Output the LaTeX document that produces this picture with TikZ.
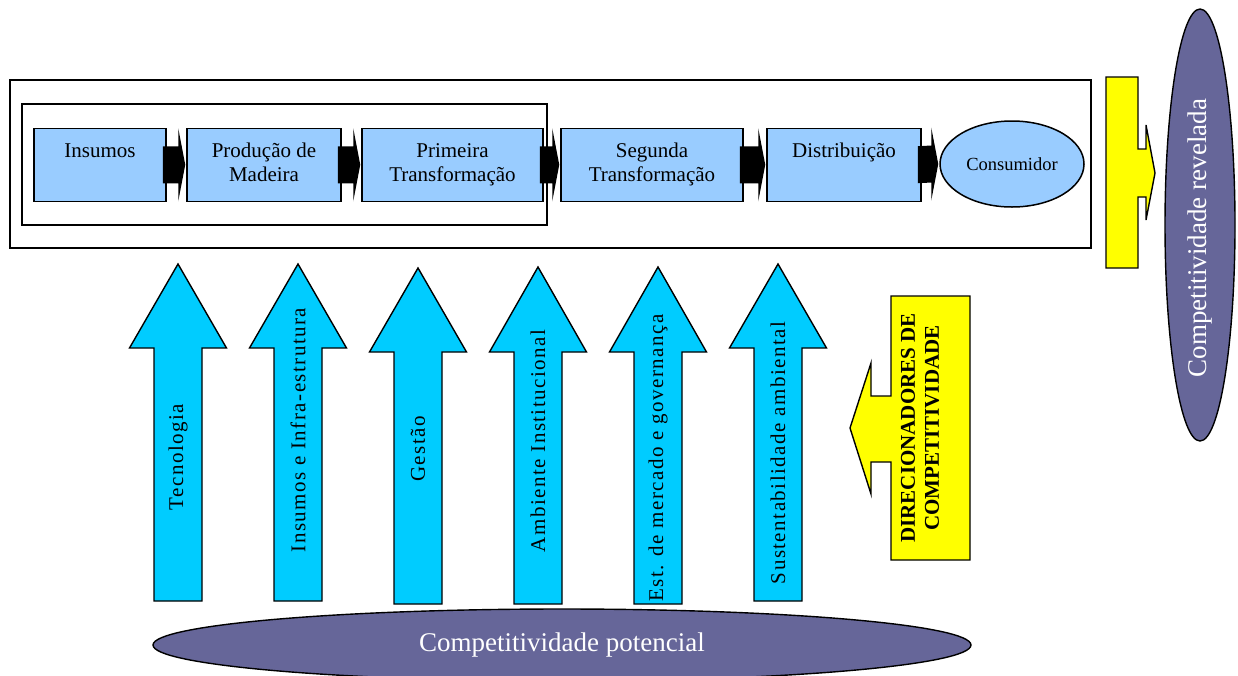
\documentclass[tikz,border=0pt]{standalone}
\usepackage{fontspec}
\setmainfont{Liberation Serif}
\usetikzlibrary{calc,shapes.geometric}

\definecolor{procblue}{HTML}{99CCFF}
\definecolor{drivercyan}{HTML}{00CCFF}
\definecolor{potpurple}{HTML}{666699}
\definecolor{dirYellow}{HTML}{FFFF00}

% black block arrow linking two stages of the chain
\newcommand\chainlink[2]{%
  \fill[black] ($(#1.east)+(-4,-18.5)$) -- ($(#2.west)+(-8,-18.5)$)
    -- ($(#2.west)+(-8,-36.5)$) -- ($(#2.west)+(-1,0)$)
    -- ($(#2.west)+(-8,36.5)$) -- ($(#2.west)+(-8,18.5)$)
    -- ($(#1.east)+(-4,18.5)$) -- cycle;}

% upward cyan arrow with a rotated label:
% #1 centre x, #2 tip y, #3 head base y, #4 bottom y, #5 label name, #6 label y, #7 text
\newcommand\driverarrow[7]{%
  \draw[driver] (#1,#2) -- (#1+48.5,#3) -- (#1+24,#3) -- (#1+24,#4)
    -- (#1-24,#4) -- (#1-24,#3) -- (#1-48.5,#3) -- cycle;
  \node[driverlabel] (#5) at (#1,#6) {#7};}

\begin{document}
\begin{tikzpicture}[x=1pt,y=-1pt,line join=miter,
  frame/.style={draw=black,line width=1.5pt},
  procbox/.style={draw=black,line width=1.5pt,fill=procblue,minimum height=73pt,
    inner sep=0pt,align=center,font=\fontsize{21}{24}\selectfont},
  driver/.style={draw=black,line width=1.4pt,fill=drivercyan},
  driverlabel/.style={rotate=90,inner sep=0pt,
    font=\fontsize{21}{24}\selectfont\addfontfeature{LetterSpace=7}},
  yellowarrow/.style={draw=black,line width=1.4pt,fill=dirYellow},
  compet/.style={ellipse,draw=black,line width=1.4pt,fill=potpurple,inner sep=0pt},
  competlabel/.style={text=white,inner sep=0pt,font=\fontsize{27}{30}\selectfont}]

\useasboundingbox (0,0) rectangle (1238,675);

% frames around the chain
\draw[frame] (10,80) rectangle (1091,248);
\draw[frame] (22,104) rectangle (547,225);

% stages of the chain
\node[procbox,minimum width=132pt] (b1) at (100,164.75) {Insumos\strut\\\strut};
\node[procbox,minimum width=154pt] (b2) at (264,164.75) {Produção de\strut\\Madeira\strut};
\node[procbox,minimum width=181pt] (b3) at (452.5,164.75) {Primeira\strut\\Transformação\strut};
\node[procbox,minimum width=182pt] (b4) at (652,164.75) {Segunda\strut\\Transformação\strut};
\node[procbox,minimum width=154pt] (b5) at (844,164.75) {Distribuição\strut\\\strut};
\node[ellipse,draw=black,line width=1.5pt,fill=procblue,minimum width=144pt,
  minimum height=86pt,inner sep=0pt,font=\fontsize{18.5}{22}\selectfont]
  (cons) at (1012,164) {Consumidor};

\chainlink{b1}{b2}
\chainlink{b2}{b3}
\chainlink{b3}{b4}
\chainlink{b4}{b5}
\chainlink{b5}{cons}

% determinants of competitiveness
\driverarrow{178}{264}{348}{601}{tec}{457}{Tecnologia}
\driverarrow{298}{264}{348}{601}{infra}{430}{Insumos e Infra-estrutura}
\driverarrow{418}{268}{352}{604}{gest}{449}{Gestão}
\driverarrow{538}{267}{352}{604}{amb}{441}{Ambiente Institucional}
\driverarrow{658}{267}{352}{604}{merc}{458}{Est. de mercado e governança}
\driverarrow{778}{264}{348}{601}{sust}{453}{Sustentabilidade ambiental}

% yellow arrow pointing at the determinants
\draw[yellowarrow] (891,296) -- (970,296) -- (970,560) -- (891,560) -- (891,462)
  -- (871,462) -- (871,494) -- (850,428) -- (871,363) -- (871,396) -- (891,396) -- cycle;
\node[rotate=90,align=center,inner sep=0pt,font=\fontsize{21}{24}\selectfont\bfseries]
  (dir) at (920,428) {DIRECIONADORES DE\\COMPETITIVIDADE};

% yellow arrow pointing at revealed competitiveness
\draw[yellowarrow] (1106,77) -- (1138,77) -- (1138,149) -- (1146,149) -- (1146,125)
  -- (1155,173) -- (1146,220) -- (1146,197) -- (1138,197) -- (1138,268) -- (1106,268) -- cycle;

% revealed and potential competitiveness
\node[compet,minimum width=70pt,minimum height=432pt] (rev) at (1200,225) {};
\node[competlabel,rotate=90] (revtxt) at (1200,238) {Competitividade revelada};
\node[compet,minimum width=818pt,minimum height=72pt] (pot) at (562,645) {};
\node[competlabel] (pottxt) at (562,645) {Competitividade potencial};

\end{tikzpicture}
\end{document}
